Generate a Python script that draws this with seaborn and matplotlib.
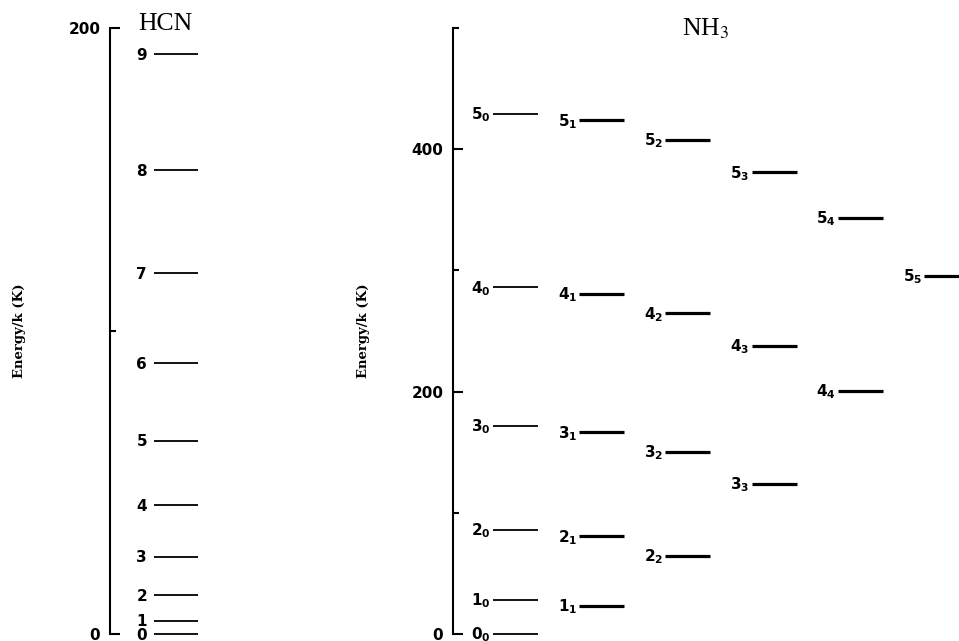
import numpy as np
import pandas as pd
import matplotlib
matplotlib.use("Agg")
import matplotlib.pyplot as plt
import matplotlib.transforms as mtransforms
import seaborn as sns

# ---------------- data ----------------
hcn_J = [0, 1, 2, 3, 4, 5, 6, 7, 8, 9]
hcn_E = [0.0, 4.3, 12.8, 25.5, 42.5, 63.8, 89.3, 119.1, 153.1, 191.4]

nh3_K0_J = [0, 1, 2, 3, 4, 5]
nh3_K0_E = [0.0, 28.0, 85.8, 171.6, 286.0, 429.0]
nh3_K1_J = [1, 2, 3, 4, 5]
nh3_K1_E = [23.3, 80.5, 166.3, 280.7, 423.7]
nh3_K2_J = [2, 3, 4, 5]
nh3_K2_E = [64.4, 150.3, 264.6, 407.6]
nh3_K3_J = [3, 4, 5]
nh3_K3_E = [123.6, 237.9, 380.9]
nh3_K4_J = [4, 5]
nh3_K4_E = [200.5, 343.5]
nh3_K5_J = [5]
nh3_K5_E = [295.5]

hcn_major = [0, 200]
hcn_minor = [100]
nh3_major = [0, 200, 400]
nh3_minor = [100, 300, 500]

# ---------------- styling ----------------
sns.set_style("ticks")
plt.rcParams["font.family"] = ["DejaVu Sans"]
plt.rcParams["mathtext.fontset"] = "dejavusans"

W, H = 959, 641
fig = plt.figure(figsize=(W / 100, H / 100), dpi=100)

def px_axes(x0, y_top, w, y_bot):
    return fig.add_axes([x0 / W, (H - y_bot) / H, w / W, (y_bot - y_top) / H])

ax1 = px_axes(110, 28, 100, 634)
ax2 = px_axes(453, 28, 506, 634)

label_font = dict(fontsize=11, fontweight="bold", color="black")

def style_axis(ax, ymax, major, minor):
    ax.set_ylim(0, ymax)
    for s in ["top", "right", "bottom"]:
        ax.spines[s].set_visible(False)
    ax.spines["left"].set_linewidth(1.5)
    ax.spines["left"].set_color("black")
    ax.xaxis.set_visible(False)
    ax.set_yticks(major)
    ax.set_yticks(minor, minor=True)
    ax.set_yticklabels([str(v) for v in major])
    ax.tick_params(axis="y", which="major", direction="in", length=7.5, width=1.5,
                   pad=7, labelsize=11, color="black", labelcolor="black")
    ax.tick_params(axis="y", which="minor", direction="in", length=4, width=1.5,
                   color="black")
    for t in ax.get_yticklabels():
        t.set_fontweight("bold")
    ax.set_facecolor("none")

def draw_levels(ax, J, E, x0, length, lw, tag):
    df = pd.DataFrame({
        "x": np.repeat([[x0, x0 + length]], len(E), axis=0).ravel(),
        "E": np.repeat(E, 2),
        "level": np.repeat([f"{tag}{j}" for j in J], 2),
    })
    n_before = len(ax.lines)
    sns.lineplot(data=df, x="x", y="E", units="level", estimator=None,
                 color="black", linewidth=lw, sort=False, legend=False, ax=ax)
    for ln in ax.lines[n_before:]:
        ln.set_clip_on(False)
        ln.set_solid_capstyle("butt")

# ---------------- HCN ----------------
ax1.set_xlim(0, 100)
style_axis(ax1, 200, hcn_major, hcn_minor)
draw_levels(ax1, hcn_J, hcn_E, 44, 44, 1.3, "J")
off1 = mtransforms.offset_copy(ax1.transData, fig=fig, x=0, y=-5.5, units="dots")
for j, e in zip(hcn_J, hcn_E):
    ax1.text(37, e, str(j), ha="right", va="baseline", transform=off1,
             clip_on=False, **label_font)

# ---------------- NH3 ----------------
ax2.set_xlim(0, 506)
style_axis(ax2, 500, nh3_major, nh3_minor)
nh3_groups = [(nh3_K0_J, nh3_K0_E), (nh3_K1_J, nh3_K1_E), (nh3_K2_J, nh3_K2_E),
              (nh3_K3_J, nh3_K3_E), (nh3_K4_J, nh3_K4_E), (nh3_K5_J, nh3_K5_E)]
off2 = mtransforms.offset_copy(ax2.transData, fig=fig, x=-2, y=-5.5, units="dots")
for K, (J, E) in enumerate(nh3_groups):
    x0 = 40 + 86.2 * K
    draw_levels(ax2, J, E, x0, 45, 1.3 if K == 0 else 2.3, f"K{K}J")
    for j, e in zip(J, E):
        ax2.text(x0, e, r"$\mathbf{%d}_{\mathbf{%d}}$" % (j, K), ha="right",
                 va="baseline", transform=off2, clip_on=False, **label_font)

# ---------------- labels & titles ----------------
for ax in (ax1, ax2):
    ax.set_xlabel("")
    ax.set_ylabel("Energy/k (K)", family="DejaVu Serif", fontweight="bold",
                  fontsize=9.5, color="black")
ax1.yaxis.set_label_coords((26 - 110) / 100, 0.5)
ax2.yaxis.set_label_coords((370 - 453) / 506, 0.5)

fig.text(165 / W, 1 - 30 / H, "HCN", family="Liberation Serif", fontsize=18.5,
         ha="center", va="baseline", color="black")
fig.text(706 / W, 1 - 35 / H, r"NH$_3$", family="Liberation Serif", fontsize=18.5,
         ha="center", va="baseline", math_fontfamily="stix", color="black")

fig.savefig("out.png", dpi=100, facecolor="white")
